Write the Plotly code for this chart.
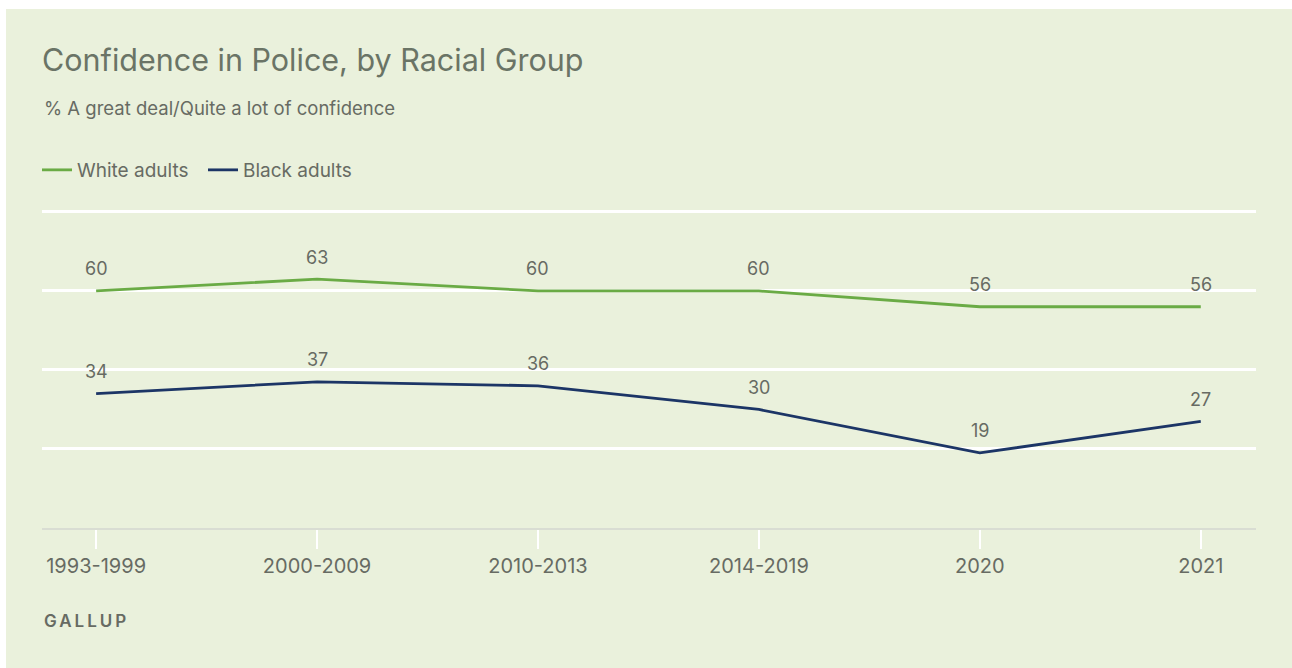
import plotly.graph_objects as go

# Survey periods and confidence shares (%)
periods = ["1993-1999", "2000-2009", "2010-2013", "2014-2019", "2020", "2021"]
white_adults = [60, 63, 60, 60, 56, 56]
black_adults = [34, 37, 36, 30, 19, 27]
grid_values = [20, 40, 60, 80]

BG = "#eaf1dc"
TEXT = "#676b63"
TITLE = "#6a7466"
GREEN = "#6aab45"
NAVY = "#1c3566"
FONT = "Inter"

W, H = 1292, 668
L, R, T, B = 42, 36, 208, 140
PW, PH = W - L - R, H - T - B


def px_x(x):
    return (x - L) / PW


def px_y(y):
    return (H - B - y) / PH


fig = go.Figure()

fig.add_trace(go.Scatter(
    x=periods, y=white_adults, name="White adults", mode="lines",
    line=dict(color=GREEN, width=2.8), hoverinfo="x+y",
))
fig.add_trace(go.Scatter(
    x=periods, y=black_adults, name="Black adults", mode="lines",
    line=dict(color=NAVY, width=2.8), hoverinfo="x+y",
))

# value labels above each point (x given as category index so that
# year-like labels such as "2020" are not read as numbers)
for series in (white_adults, black_adults):
    for i, v in enumerate(series):
        fig.add_annotation(
            x=i, y=v, text=str(v), showarrow=False,
            yshift=22, xanchor="center", yanchor="middle",
            font=dict(family=FONT, size=18, color=TEXT),
        )

# white strips along the top and left edges of the card
fig.add_shape(type="rect", xref="paper", yref="paper", layer="below",
              x0=px_x(0), x1=px_x(W), y0=px_y(9), y1=px_y(0),
              fillcolor="white", line_width=0)
fig.add_shape(type="rect", xref="paper", yref="paper", layer="below",
              x0=px_x(0), x1=px_x(6), y0=px_y(H), y1=px_y(0),
              fillcolor="white", line_width=0)

fig.add_annotation(
    xref="paper", yref="paper", x=0, y=px_y(108),
    xanchor="left", yanchor="middle", showarrow=False,
    text="% A great deal/Quite a lot of confidence",
    font=dict(family=FONT, size=18.5, color=TEXT),
)

fig.add_annotation(
    xref="paper", yref="paper", x=0, y=px_y(621),
    xanchor="left", yanchor="middle", showarrow=False,
    text='<span style="letter-spacing:3px">GALLUP</span>',
    font=dict(family=FONT, size=17, color=TEXT, weight=600),
)

fig.update_layout(
    width=W, height=H,
    paper_bgcolor=BG,
    plot_bgcolor="rgba(0,0,0,0)",
    margin=dict(l=L, r=R, t=T, b=B, pad=0),
    title=dict(
        text="Confidence in Police, by Racial Group",
        x=0, xref="paper", xanchor="left",
        y=1 - 60 / H, yref="container", yanchor="middle",
        font=dict(family=FONT, size=30.5, color=TITLE),
    ),
    showlegend=True,
    legend=dict(
        orientation="h", x=px_x(37), xref="paper", xanchor="left",
        y=1 - 170 / H, yref="container", yanchor="middle",
        font=dict(family=FONT, size=19, color=TEXT),
        bgcolor="rgba(0,0,0,0)", itemwidth=30,
        entrywidth=121, entrywidthmode="pixels",
    ),
    xaxis=dict(
        type="category", range=[-0.245, 5.25],
        showgrid=False, showline=True, linecolor="#d9ddd3", linewidth=2,
        ticks="outside", ticklen=19, tickwidth=2, tickcolor="white",
        tickfont=dict(family=FONT, size=20, color=TEXT),
        fixedrange=True,
    ),
    yaxis=dict(
        range=[0, 81], tickvals=grid_values, showticklabels=False,
        showgrid=True, gridcolor="white", gridwidth=2.5,
        zeroline=False, fixedrange=True,
    ),
)

fig.write_html("out.html")
